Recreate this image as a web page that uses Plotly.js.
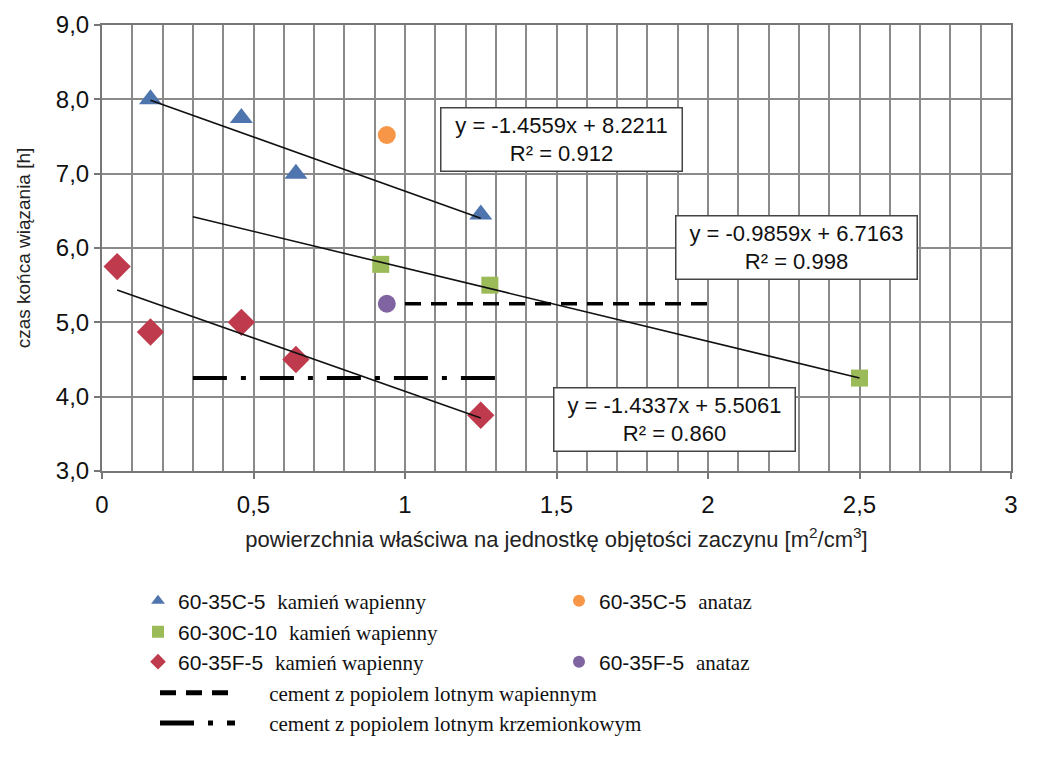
<!DOCTYPE html>
<html>
<head>
<meta charset="utf-8">
<script src="https://cdn.plot.ly/plotly-3.0.1.min.js"></script>
<style>html,body{margin:0;padding:0;background:#fff;}#chart{width:1049px;height:760px;}</style>
</head>
<body>
<div id="chart"></div>
<script>
// ---- data ----
const triX = [0.16, 0.46, 0.64, 1.25];
const triY = [8.0, 7.75, 7.0, 6.45];
const sqX = [0.92, 1.28, 2.5];
const sqY = [5.78, 5.5, 4.25];
const diaX = [0.05, 0.16, 0.46, 0.64, 1.25];
const diaY = [5.75, 4.87, 5.0, 4.5, 3.75];
const orangeX = [0.94];
const orangeY = [7.52];
const purpleX = [0.94];
const purpleY = [5.25];
// trend lines (endpoints as drawn)
const trend1X = [0.16, 1.25], trend1Y = [7.988, 6.401];
const trend2X = [0.30, 2.50], trend2Y = [6.420, 4.252];
const trend3X = [0.05, 1.25], trend3Y = [5.434, 3.714];
// reference cement lines
const limeAshX = [1.0, 2.0], limeAshY = [5.25, 5.25];
const silicaAshX = [0.3, 1.3], silicaAshY = [4.25, 4.25];
// equation labels
const eqTexts = ["y = -1.4559x + 8.2211<br>R² = 0.912", "y = -0.9859x + 6.7163<br>R² = 0.998", "y = -1.4337x + 5.5061<br>R² = 0.860"];
const eqX = [1.517, 2.292, 1.889];
const eqY = [7.453, 6.007, 3.693];
const xTitle = "powierzchnia właściwa na jednostkę objętości zaczynu [m<sup>2</sup>/cm<sup>3</sup>]";
const yTitle = "czas końca wiązania [h]";

const SANS = "Liberation Sans, Arial, sans-serif";
const SERIF = "Liberation Serif, Times New Roman, serif";
const ser = t => '<span style="font-family:' + SERIF + '">' + t + '</span>';
const NB = '\u00a0';

// plot-area geometry helpers (px -> paper)
const L = 102, R = 1011, T = 25, B = 471;
const px = v => (v - L) / (R - L);
const py = v => (B - v) / (B - T);

const traces = [
  {x: triX, y: triY, type: 'scatter', mode: 'markers', name: '60-35C-5  ' + ser('kamień wapienny'),
   marker: {symbol: 'triangle-up', size: 20, color: '#4F75AE'}, legend: 'legend'},
  {x: orangeX, y: orangeY, type: 'scatter', mode: 'markers', name: '60-35C-5  ' + ser('anataz'),
   marker: {symbol: 'circle', size: 18, color: '#F79646'}, legend: 'legend'},
  {x: sqX, y: sqY, type: 'scatter', mode: 'markers', name: '60-30C-10  ' + ser('kamień wapienny'),
   marker: {symbol: 'square', size: 17, color: '#9BBB59'}, legend: 'legend2'},
  {x: diaX, y: diaY, type: 'scatter', mode: 'markers', name: '60-35F-5  ' + ser('kamień wapienny'),
   marker: {symbol: 'diamond', size: 21, color: '#BE3A4C'}, legend: 'legend3'},
  {x: purpleX, y: purpleY, type: 'scatter', mode: 'markers', name: '60-35F-5  ' + ser('anataz'),
   marker: {symbol: 'circle', size: 18, color: '#8064A2'}, legend: 'legend3'},
  {x: trend1X, y: trend1Y, type: 'scatter', mode: 'lines', line: {color: '#111', width: 1.6}, showlegend: false, hoverinfo: 'skip'},
  {x: trend2X, y: trend2Y, type: 'scatter', mode: 'lines', line: {color: '#111', width: 1.6}, showlegend: false, hoverinfo: 'skip'},
  {x: trend3X, y: trend3Y, type: 'scatter', mode: 'lines', line: {color: '#111', width: 1.6}, showlegend: false, hoverinfo: 'skip'},
  {x: limeAshX, y: limeAshY, type: 'scatter', mode: 'lines', name: NB.repeat(5) + ser('cement z popiolem lotnym wapiennym'),
   line: {color: '#000', width: 3.5, dash: '16px,10px'}, legend: 'legend4'},
  {x: silicaAshX, y: silicaAshY, type: 'scatter', mode: 'lines', name: NB.repeat(5) + ser('cement z popiolem lotnym krzemionkowym'),
   line: {color: '#000', width: 4, dash: '34px,14px,5px,14px'}, legend: 'legend4'}
];

const annotations = eqTexts.map((t, i) => ({
  x: eqX[i], y: eqY[i], xref: 'x', yref: 'y', text: t, showarrow: false,
  font: {family: SANS, size: 22, color: '#111'},
  bgcolor: '#fff', bordercolor: '#444', borderwidth: 1.5, borderpad: 4,
  width: 232, height: 54, align: 'center'
}));

const legBase = {
  font: {family: SANS, size: 21, color: '#111'},
  bgcolor: 'rgba(0,0,0,0)', borderwidth: 0, xanchor: 'left', yanchor: 'middle',
  itemsizing: 'constant', itemclick: false, itemdoubleclick: false
};

const gridC = '#8a8a8a';
const layout = {
  width: 1049, height: 760,
  margin: {l: L, r: 1049 - R, t: T, b: 760 - B},
  paper_bgcolor: '#fff', plot_bgcolor: '#fff',
  separators: ', ',
  font: {family: SANS, color: '#111'},
  showlegend: true,
  xaxis: {
    range: [0, 3], dtick: 0.5, tick0: 0, showgrid: true, gridcolor: gridC, gridwidth: 1.5,
    minor: {dtick: 0.1, showgrid: true, gridcolor: gridC, gridwidth: 1.5},
    showline: true, linecolor: '#777', linewidth: 2, mirror: true,
    ticks: 'outside', ticklen: 6, tickcolor: '#777', tickwidth: 2, ticklabelstandoff: 5,
    tickfont: {family: SANS, size: 24, color: '#111'}, zeroline: false,
    title: {text: xTitle, font: {family: SANS, size: 22, color: '#222'}, standoff: 15}
  },
  yaxis: {
    range: [3, 9], dtick: 1, tick0: 3, tickformat: '.1f', showgrid: true, gridcolor: gridC, gridwidth: 1.5,
    showline: true, linecolor: '#777', linewidth: 2, mirror: true,
    ticks: 'outside', ticklen: 6, tickcolor: '#777', tickwidth: 2,
    tickfont: {family: SANS, size: 24, color: '#111'}, zeroline: false,
    title: {text: yTitle, font: {family: SANS, size: 19, color: '#222'}, standoff: 20}
  },
  annotations: annotations,
  legend: Object.assign({}, legBase, {x: px(138), y: py(601), orientation: 'h', entrywidth: 376, entrywidthmode: 'pixels', itemwidth: 30}),
  legend2: Object.assign({}, legBase, {x: px(138), y: py(632), orientation: 'h', itemwidth: 30}),
  legend3: Object.assign({}, legBase, {x: px(138), y: py(662), orientation: 'h', entrywidth: 376, entrywidthmode: 'pixels', itemwidth: 30}),
  legend4: Object.assign({}, legBase, {x: px(155), y: py(708), orientation: 'v', itemwidth: 75, tracegroupgap: 0})
};

Plotly.newPlot('chart', traces, layout, {displayModeBar: false});
</script>
</body>
</html>
